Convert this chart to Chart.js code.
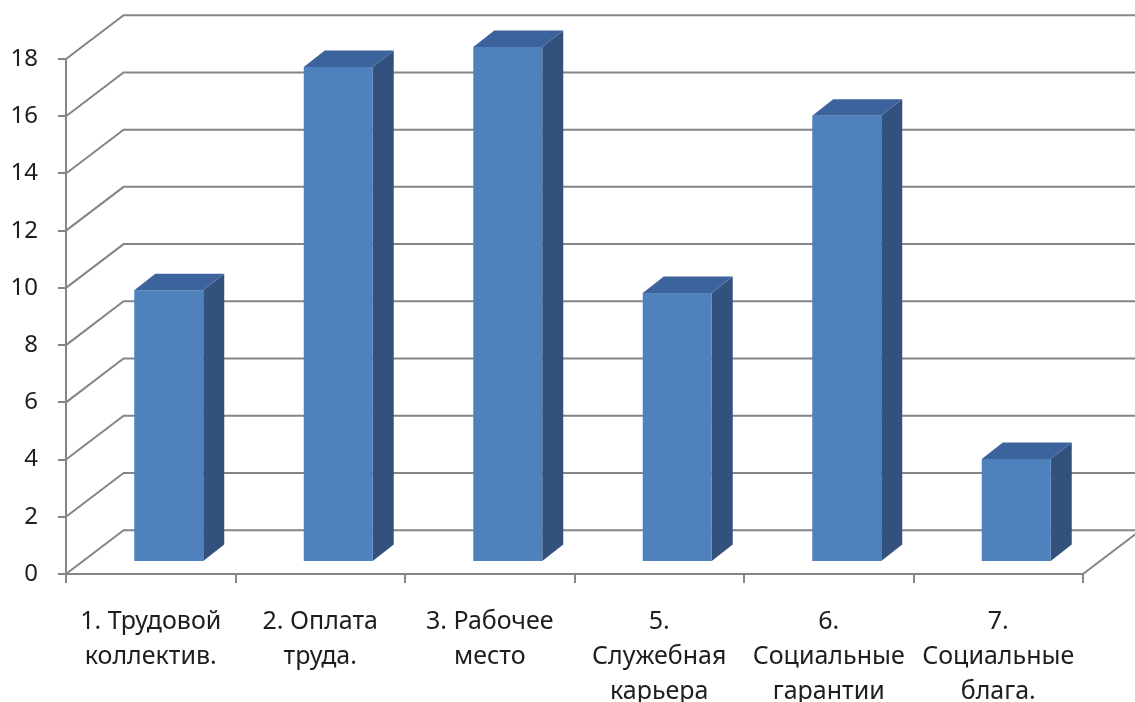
<!DOCTYPE html>
<html>
<head>
<meta charset="utf-8">
<script src="https://cdn.jsdelivr.net/npm/chart.js@4/dist/chart.umd.min.js"></script>
<style>
  html, body { margin: 0; padding: 0; background: #fff; overflow: hidden; }
  canvas { display: block; }
</style>
</head>
<body>
<canvas id="chart" width="1135" height="702"></canvas>
<script>
// Factors of job satisfaction
const categories = [
  ['1. Трудовой', 'коллектив.'],
  ['2. Оплата', 'труда.'],
  ['3. Рабочее', 'место'],
  ['5.', 'Служебная', 'карьера'],
  ['6.', 'Социальные', 'гарантии'],
  ['7.', 'Социальные', 'блага.']
];
const values = [9.5, 17.3, 18.0, 9.4, 15.6, 3.6];
const yTickValues = [0, 2, 4, 6, 8, 10, 12, 14, 16, 18];

// Oblique 3D look: back wall offset, bar placement and bar depth (pixels)
const WALL = { dx: 57.6, dy: -43.8 };
const BAR_SHIFT = { dx: 18, dy: -12 };
const BAR_DEPTH = { dx: 21, dy: -16.5 };
const GRID_COLOR = '#858585';
const FACE_FRONT = '#4F81BD';
const FACE_TOP = '#3C639B';
const FACE_SIDE = '#32527D';
const TEXT_COLOR = '#1e1e1e';
const FONT = 'Noto Sans';

const box3d = {
  id: 'box3d',
  beforeDatasetsDraw(chart) {
    const { ctx, chartArea: a, scales: { y } } = chart;
    ctx.save();
    ctx.strokeStyle = GRID_COLOR;
    ctx.lineWidth = 2;
    ctx.lineJoin = 'miter';
    ctx.beginPath();
    y.ticks.forEach(t => {
      const py = y.getPixelForValue(t.value);
      ctx.moveTo(a.left, py);
      ctx.lineTo(a.left + WALL.dx, py + WALL.dy);
      ctx.lineTo(a.right + WALL.dx, py + WALL.dy);
    });
    // right edge of the floor
    const p0 = y.getPixelForValue(0);
    ctx.moveTo(a.right, p0);
    ctx.lineTo(a.right + WALL.dx, p0 + WALL.dy);
    ctx.stroke();
    ctx.restore();
  },
  afterDatasetsDraw(chart) {
    const { ctx } = chart;
    const meta = chart.getDatasetMeta(0);
    ctx.save();
    meta.data.forEach(bar => {
      const p = bar.getProps(['x', 'y', 'base', 'width'], true);
      const L = p.x - p.width / 2 + BAR_SHIFT.dx;
      const R = p.x + p.width / 2 + BAR_SHIFT.dx;
      const T = p.y + BAR_SHIFT.dy;
      const B = p.base + BAR_SHIFT.dy;
      // side face
      ctx.fillStyle = FACE_SIDE;
      ctx.beginPath();
      ctx.moveTo(R, T);
      ctx.lineTo(R + BAR_DEPTH.dx, T + BAR_DEPTH.dy);
      ctx.lineTo(R + BAR_DEPTH.dx, B + BAR_DEPTH.dy);
      ctx.lineTo(R, B);
      ctx.closePath();
      ctx.fill();
      // top face
      ctx.fillStyle = FACE_TOP;
      ctx.beginPath();
      ctx.moveTo(L, T);
      ctx.lineTo(L + BAR_DEPTH.dx, T + BAR_DEPTH.dy);
      ctx.lineTo(R + BAR_DEPTH.dx, T + BAR_DEPTH.dy);
      ctx.lineTo(R, T);
      ctx.closePath();
      ctx.fill();
      // front face
      ctx.fillStyle = FACE_FRONT;
      ctx.fillRect(L, T, R - L, B - T);
    });
    ctx.restore();
  }
};

new Chart(document.getElementById('chart'), {
  type: 'bar',
  data: {
    labels: categories,
    datasets: [{
      data: values,
      backgroundColor: 'rgba(0,0,0,0)',
      borderWidth: 0,
      categoryPercentage: 1,
      barPercentage: 0.407
    }]
  },
  options: {
    responsive: false,
    devicePixelRatio: 1,
    animation: false,
    events: [],
    layout: { padding: { top: 59, right: 52, left: 0, bottom: 0 } },
    plugins: { legend: { display: false }, tooltip: { enabled: false } },
    scales: {
      x: {
        offset: true,
        grid: { display: true, drawOnChartArea: false, drawTicks: true, tickLength: 9, color: GRID_COLOR, lineWidth: 2, offset: true },
        border: { display: true, color: GRID_COLOR, width: 2 },
        ticks: {
          autoSkip: false, maxRotation: 0, minRotation: 0, padding: 21,
          color: TEXT_COLOR,
          font: { family: FONT, size: 25, lineHeight: 1.4 }
        },
        afterFit(scale) {
          scale.height = 702 - 574;
          scale.paddingLeft = 0;
          scale.paddingRight = 0;
        }
      },
      y: {
        min: yTickValues[0],
        max: yTickValues[yTickValues.length - 1],
        afterBuildTicks(scale) {
          scale.ticks = yTickValues.map(v => ({ value: v }));
        },
        grid: { display: true, drawOnChartArea: false, drawTicks: true, tickLength: 8, color: GRID_COLOR, lineWidth: 2 },
        border: { display: true, color: GRID_COLOR, width: 2 },
        ticks: {
          padding: 20,
          color: TEXT_COLOR,
          font: { family: FONT, size: 24 }
        },
        afterFit(scale) {
          scale.width = 66;
          scale.paddingTop = 0;
          scale.paddingBottom = 0;
        }
      }
    }
  },
  plugins: [box3d]
});
</script>
</body>
</html>
